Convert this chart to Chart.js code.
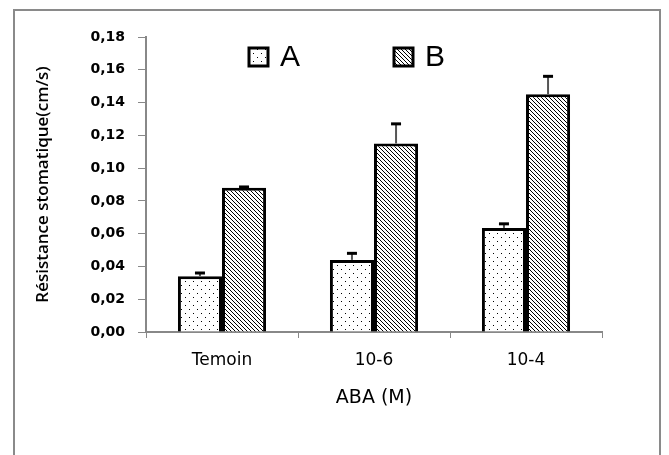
<!DOCTYPE html>
<html>
<head>
<meta charset="utf-8">
<script src="https://cdn.jsdelivr.net/npm/chart.js@4"></script>
<style>
  body { margin: 0; background: #fff; }
</style>
</head>
<body>
<canvas id="chart" width="669" height="455"></canvas>
<script>
// data
const categories = ['Temoin', '10-6', '10-4'];
const seriesNames = ['A', 'B'];
const valuesA = [0.034, 0.044, 0.0635];
const valuesB = [0.088, 0.115, 0.145];
const errorsA = [0.002, 0.004, 0.0025];
const errorsB = [0.0005, 0.012, 0.011];
const yTicks = [0, 0.02, 0.04, 0.06, 0.08, 0.10, 0.12, 0.14, 0.16, 0.18];

// fill patterns
function makeDots() {
  const c = document.createElement('canvas');
  c.width = 8; c.height = 8;
  const g = c.getContext('2d');
  g.fillStyle = '#fff';
  g.fillRect(0, 0, 8, 8);
  g.fillStyle = '#000';
  g.fillRect(1, 1, 1, 1);
  g.fillRect(5, 5, 1, 1);
  return g.createPattern(c, 'repeat');
}
function makeHatch() {
  const c = document.createElement('canvas');
  c.width = 4; c.height = 4;
  const g = c.getContext('2d');
  g.fillStyle = '#fff';
  g.fillRect(0, 0, 4, 4);
  g.fillStyle = '#000';
  for (let i = 0; i < 4; i++) g.fillRect(i, i, 1, 1);
  return g.createPattern(c, 'repeat');
}
const dots = makeDots();
const hatch = makeHatch();

// outer frame like the excel chart border
const framePlugin = {
  id: 'frame',
  beforeDraw(chart) {
    const ctx = chart.ctx;
    ctx.save();
    ctx.strokeStyle = '#8a8a8a';
    ctx.lineWidth = 2;
    ctx.strokeRect(14, 10, 646, 470);
    ctx.restore();
  }
};

// error bars, only the upper half is drawn
const errorPlugin = {
  id: 'errbars',
  afterDatasetsDraw(chart) {
    const ctx = chart.ctx;
    const y = chart.scales.y;
    const errs = [errorsA, errorsB];
    chart.data.datasets.forEach((ds, di) => {
      const meta = chart.getDatasetMeta(di);
      meta.data.forEach((bar, i) => {
        const top = y.getPixelForValue(ds.data[i] + errs[di][i]);
        ctx.save();
        ctx.strokeStyle = '#555';
        ctx.lineWidth = 2;
        ctx.beginPath();
        ctx.moveTo(bar.x, bar.y);
        ctx.lineTo(bar.x, top);
        ctx.stroke();
        ctx.strokeStyle = '#000';
        ctx.lineWidth = 3;
        ctx.beginPath();
        ctx.moveTo(bar.x - 5, top);
        ctx.lineTo(bar.x + 5, top);
        ctx.stroke();
        ctx.restore();
      });
    });
  }
};

// legend sits inside the plot area
const legendPlugin = {
  id: 'insideLegend',
  afterDraw(chart) {
    const ctx = chart.ctx;
    const fills = [dots, hatch];
    const xs = [249, 394];
    ctx.save();
    ctx.font = '30px "Liberation Sans"';
    ctx.textBaseline = 'middle';
    seriesNames.forEach((name, i) => {
      ctx.fillStyle = fills[i];
      ctx.fillRect(xs[i], 48, 19, 18);
      ctx.strokeStyle = '#000';
      ctx.lineWidth = 3;
      ctx.strokeRect(xs[i], 48, 19, 18);
      ctx.fillStyle = '#000';
      ctx.fillText(name, xs[i] + 31, 58);
    });
    ctx.restore();
  }
};

new Chart(document.getElementById('chart'), {
  type: 'bar',
  data: {
    labels: categories,
    datasets: [
      { label: seriesNames[0], data: valuesA, backgroundColor: dots, borderColor: '#000', borderWidth: 3 },
      { label: seriesNames[1], data: valuesB, backgroundColor: hatch, borderColor: '#000', borderWidth: 3 }
    ]
  },
  options: {
    responsive: false,
    animation: false,
    categoryPercentage: 0.58,
    barPercentage: 1.0,
    layout: { padding: { left: 20, right: 67, top: 37, bottom: 33 } },
    plugins: {
      legend: { display: false },
      tooltip: { enabled: false }
    },
    scales: {
      x: {
        grid: { drawOnChartArea: false, color: '#888', tickLength: 6, lineWidth: 1 },
        border: { color: '#888', width: 2 },
        ticks: {
          color: '#000',
          padding: 12,
          font: { family: 'DejaVu Sans', size: 17 }
        },
        title: {
          display: true,
          text: 'ABA (M)',
          color: '#000',
          font: { family: 'DejaVu Sans', size: 19 },
          padding: { top: 0, bottom: 13 }
        },
        afterFit(s) { s.height = 90; }
      },
      y: {
        min: 0,
        max: 0.18,
        afterBuildTicks(s) { s.ticks = yTicks.map(v => ({ value: v })); },
        grid: { drawOnChartArea: false, color: '#888', tickLength: 8 },
        border: { color: '#888', width: 2 },
        ticks: {
          color: '#000',
          padding: 13,
          font: { family: 'DejaVu Sans', size: 14, weight: 'bold' },
          callback: (v) => v.toFixed(2).replace('.', ',')
        },
        title: {
          display: true,
          text: 'Résistance stomatique(cm/s)',
          color: '#000',
          font: { family: 'Open Sans', size: 17, weight: '600' },
          padding: { top: 13, bottom: 0 }
        },
        afterFit(s) { s.width = 126; }
      }
    }
  },
  plugins: [framePlugin, errorPlugin, legendPlugin]
});
</script>
</body>
</html>
